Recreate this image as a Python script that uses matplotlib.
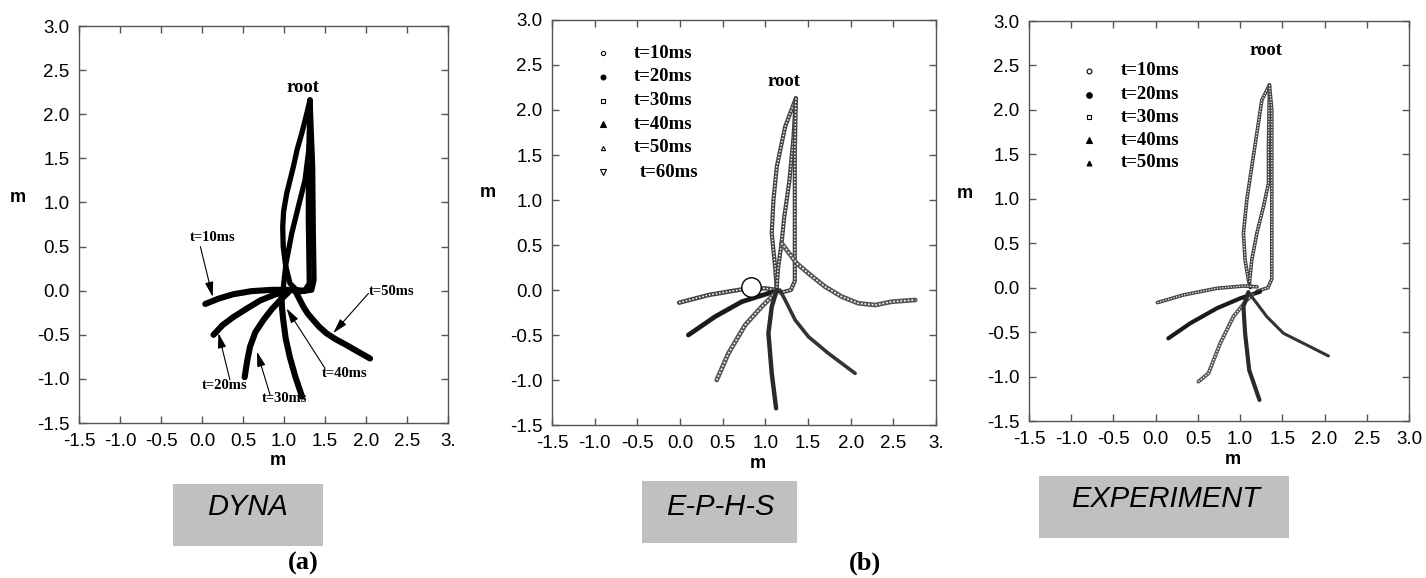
import matplotlib
matplotlib.use("Agg")
import matplotlib.pyplot as plt
from matplotlib.patches import Rectangle

# ---- tick values / labels ----
X_TICKS = [-1.5, -1.0, -0.5, 0.0, 0.5, 1.0, 1.5, 2.0, 2.5, 3.0]
Y_TICKS = [-1.5, -1.0, -0.5, 0.0, 0.5, 1.0, 1.5, 2.0, 2.5, 3.0]
X_LABELS_CUT = ["-1.5", "-1.0", "-0.5", "0.0", "0.5", "1.0", "1.5", "2.0", "2.5", "3."]
X_LABELS_FULL = ["-1.5", "-1.0", "-0.5", "0.0", "0.5", "1.0", "1.5", "2.0", "2.5", "3.0"]
Y_LABELS = ["-1.5", "-1.0", "-0.5", "0.0", "0.5", "1.0", "1.5", "2.0", "2.5", "3.0"]

# ---- panel (a) DYNA: upper strands from the root ----
A_UP_LEFT_X = [1.317, 1.27, 1.216, 1.16, 1.114, 1.033, 0.995, 0.984, 0.990, 1.02, 1.073, 1.154]
A_UP_LEFT_Y = [2.161, 1.98, 1.783, 1.60, 1.405, 1.103, 0.90, 0.724, 0.50, 0.28, 0.083, 0.007]
A_UP_MID_X = [1.317, 1.317, 1.256, 1.174, 1.094, 1.024, 0.992]
A_UP_MID_Y = [2.161, 1.707, 1.254, 0.951, 0.650, 0.310, 0.044]
A_UP_RIGHT_X = [1.317, 1.349, 1.357, 1.366, 1.338, 1.195]
A_UP_RIGHT_Y = [2.161, 1.405, 0.650, 0.121, 0.007, -0.012]
A_UP_RIGHT2_X = [1.317, 1.300, 1.296, 1.308, 1.250]
A_UP_RIGHT2_Y = [2.161, 1.500, 0.838, 0.083, 0.000]

# ---- panel (a) branches ----
A_T10_X = [0.04, 0.20, 0.38, 0.60, 0.85, 1.10, 1.25]
A_T10_Y = [-0.15, -0.09, -0.04, -0.005, 0.01, 0.01, 0.0]
A_T20_X = [0.14, 0.25, 0.38, 0.55, 0.71, 0.87, 1.03, 1.15]
A_T20_Y = [-0.50, -0.39, -0.30, -0.20, -0.11, -0.05, 0.0, 0.01]
A_T30_X = [0.52, 0.55, 0.585, 0.65, 0.75, 0.85, 0.95, 1.05]
A_T30_Y = [-0.98, -0.80, -0.635, -0.47, -0.33, -0.21, -0.11, -0.02]
A_T40_X = [1.22, 1.14, 1.07, 1.02, 0.99, 0.975, 0.97, 1.0]
A_T40_Y = [-1.20, -0.98, -0.75, -0.54, -0.33, -0.19, -0.07, 0.0]
A_T50_X = [2.049, 1.90, 1.764, 1.63, 1.520, 1.43, 1.357, 1.29, 1.236, 1.13]
A_T50_Y = [-0.768, -0.69, -0.617, -0.55, -0.484, -0.41, -0.333, -0.26, -0.182, 0.01]

# arrow labels in (a): text position, arrow tail, arrow head
A_LABELS = ["t=10ms", "t=20ms", "t=30ms", "t=40ms", "t=50ms"]
A_LABEL_XY = [(0.13, 0.60), (0.27, -1.07), (1.01, -1.22), (1.74, -0.94), (2.31, -0.01)]
A_TAIL_XY = [(-0.02, 0.50), (0.34, -1.01), (0.83, -1.18), (1.50, -0.88), (2.03, -0.03)]
A_HEAD_XY = [(0.13, -0.07), (0.20, -0.48), (0.67, -0.69), (1.03, -0.20), (1.60, -0.48)]

# ---- panel (b) E-P-H-S ----
B_UP_LEFT_X = [1.357, 1.232, 1.134, 1.095, 1.075, 1.114, 1.134]
B_UP_LEFT_Y = [2.13, 1.815, 1.37, 1.0, 0.63, 0.259, 0.0]
B_UP_MID_X = [1.357, 1.33, 1.28, 1.22, 1.19, 1.15, 1.13]
B_UP_MID_Y = [2.13, 1.70, 1.20, 0.80, 0.52, 0.25, 0.0]
B_UP_RIGHT_X = [1.357, 1.345, 1.345, 1.345, 1.30, 1.18]
B_UP_RIGHT_Y = [2.13, 1.50, 0.80, 0.10, 0.0, -0.03]
B_T10_X = [-0.011, 0.333, 0.724, 0.997, 1.134]
B_T10_Y = [-0.141, -0.056, 0.007, 0.019, 0.0]
B_T20_X = [0.098, 0.411, 0.724, 1.036, 1.15]
B_T20_Y = [-0.50, -0.296, -0.130, -0.037, -0.01]
B_T30_X = [0.43, 0.567, 0.763, 0.958, 1.114]
B_T30_Y = [-1.0, -0.704, -0.389, -0.185, -0.037]
B_T40_X = [1.126, 1.075, 1.036, 1.075, 1.134]
B_T40_Y = [-1.315, -0.926, -0.481, -0.185, 0.0]
B_T50_X = [2.052, 1.739, 1.505, 1.349, 1.232, 1.17]
B_T50_Y = [-0.926, -0.704, -0.519, -0.333, -0.111, 0.0]
B_T60_X = [1.19, 1.368, 1.505, 1.70, 1.896, 2.091, 2.287, 2.482, 2.756]
B_T60_Y = [0.52, 0.296, 0.185, 0.037, -0.074, -0.148, -0.167, -0.130, -0.111]
B_CIRCLE = (0.833, 0.037)
B_LEGEND = ["t=10ms", "t=20ms", "t=30ms", "t=40ms", "t=50ms", "t=60ms"]

# ---- panel (c) EXPERIMENT ----
C_UP_LEFT_X = [1.347, 1.257, 1.198, 1.138, 1.079, 1.039, 1.059, 1.098, 1.12]
C_UP_LEFT_Y = [2.28, 2.111, 1.737, 1.361, 0.987, 0.612, 0.312, 0.087, 0.0]
C_UP_MID_X = [1.347, 1.336, 1.336, 1.276, 1.198, 1.138, 1.11]
C_UP_MID_Y = [2.28, 1.60, 1.174, 0.911, 0.612, 0.312, 0.05]
C_UP_RIGHT_X = [1.347, 1.375, 1.375, 1.375, 1.33, 1.20]
C_UP_RIGHT_Y = [2.28, 2.0, 1.0, 0.10, 0.0, -0.04]
C_T10_X = [0.02, 0.328, 0.724, 1.039, 1.20]
C_T10_Y = [-0.168, -0.082, -0.007, 0.019, 0.01]
C_T20_X = [0.15, 0.408, 0.724, 1.0, 1.237]
C_T20_Y = [-0.57, -0.401, -0.232, -0.12, -0.045]
C_T30_X = [0.506, 0.625, 0.764, 0.92, 1.079, 1.15]
C_T30_Y = [-1.057, -0.963, -0.626, -0.326, -0.139, -0.08]
C_T40_X = [1.229, 1.107, 1.059, 1.039, 1.098]
C_T40_Y = [-1.263, -0.926, -0.513, -0.213, -0.05]
C_T50_X = [2.046, 1.829, 1.513, 1.316, 1.198, 1.12]
C_T50_Y = [-0.768, -0.664, -0.513, -0.326, -0.176, -0.08]
C_LEGEND = ["t=10ms", "t=20ms", "t=30ms", "t=40ms", "t=50ms"]

SERIF = ["Liberation Serif", "DejaVu Serif"]
SANS = ["Liberation Sans", "DejaVu Sans"]
SPINE = "#555555"


def setup_axes(ax, xlabels, xlab_pos, ylab_pos):
    ax.set_xlim(-1.5, 3.0)
    ax.set_ylim(-1.5, 3.0)
    ax.set_xticks(X_TICKS)
    ax.set_yticks(Y_TICKS)
    ax.set_xticklabels(xlabels, family=SANS, fontsize=13.5)
    ax.set_yticklabels(Y_LABELS, family=SANS, fontsize=13.5)
    ax.tick_params(direction="in", length=5, width=1, color=SPINE,
                   top=True, right=True, pad=7)
    for s in ax.spines.values():
        s.set_color(SPINE)
        s.set_linewidth(1.0)
    ax.text(xlab_pos[0], xlab_pos[1], "m", transform=ax.transAxes, ha="center",
            va="center", fontsize=13, weight="bold", family=SANS)
    ax.text(ylab_pos[0], ylab_pos[1], "m", transform=ax.transAxes, ha="center",
            va="center", fontsize=13, weight="bold", family=SANS)


def beaded(ax, x, y, lw=3.2, color="#333333", open_=True):
    # chain of small markers: dark band with a dotted light core
    ax.plot(x, y, color=color, lw=lw, solid_capstyle="round", solid_joinstyle="round")
    if open_:
        ax.plot(x, y, color="white", lw=lw * 0.35, linestyle=(0, (1, 1.2)),
                solid_joinstyle="round")


fig = plt.figure(figsize=(14.26, 5.78), dpi=100)

# ---------------- (a) ----------------
ax1 = fig.add_axes([0.0554, 0.268, 0.2588, 0.687])
setup_axes(ax1, X_LABELS_CUT, (0.539, -0.093), (-0.165, 0.569))
for xs, ys in [(A_UP_LEFT_X, A_UP_LEFT_Y), (A_UP_MID_X, A_UP_MID_Y),
               (A_UP_RIGHT_X, A_UP_RIGHT_Y), (A_UP_RIGHT2_X, A_UP_RIGHT2_Y)]:
    ax1.plot(xs, ys, color="black", lw=3.8, solid_capstyle="round", solid_joinstyle="round")
for xs, ys in [(A_T10_X, A_T10_Y), (A_T20_X, A_T20_Y), (A_T30_X, A_T30_Y),
               (A_T40_X, A_T40_Y), (A_T50_X, A_T50_Y)]:
    ax1.plot(xs, ys, color="black", lw=4.4, solid_capstyle="round", solid_joinstyle="round")
for lab, txy, tail, head in zip(A_LABELS, A_LABEL_XY, A_TAIL_XY, A_HEAD_XY):
    ax1.text(txy[0], txy[1], lab, ha="center", va="center", fontsize=10.5,
             weight="bold", family=SERIF)
    ax1.annotate("", xy=head, xytext=tail,
                 arrowprops=dict(arrowstyle="-|>,head_length=0.9,head_width=0.25",
                                 color="black", lw=0.8, shrinkA=0, shrinkB=0))
ax1.text(1.23, 2.30, "root", ha="center", va="center", fontsize=13.5,
         weight="bold", family=SERIF)

# ---------------- (b) ----------------
ax2 = fig.add_axes([0.3871, 0.2647, 0.2693, 0.7007])
setup_axes(ax2, X_LABELS_CUT, (0.536, -0.094), (-0.167, 0.573))
for xs, ys in [(B_UP_LEFT_X, B_UP_LEFT_Y), (B_UP_MID_X, B_UP_MID_Y),
               (B_UP_RIGHT_X, B_UP_RIGHT_Y)]:
    beaded(ax2, xs, ys, lw=3.0, color="#444444")
beaded(ax2, B_T10_X, B_T10_Y, lw=3.2, color="#444444")
beaded(ax2, B_T20_X, B_T20_Y, lw=3.4, color="#1a1a1a", open_=False)
beaded(ax2, B_T30_X, B_T30_Y, lw=3.4, color="#555555")
beaded(ax2, B_T40_X, B_T40_Y, lw=3.2, color="#2a2a2a", open_=False)
beaded(ax2, B_T50_X, B_T50_Y, lw=2.6, color="#333333", open_=False)
beaded(ax2, B_T60_X, B_T60_Y, lw=3.4, color="#555555")
ax2.plot([B_CIRCLE[0]], [B_CIRCLE[1]], marker="o", ms=14, mfc="white",
         mec="black", mew=1.0, zorder=5)
b_markers = [("o", 3, "none"), ("o", 3.5, "black"), ("s", 3, "none"),
             ("^", 4, "black"), ("^", 3, "none"), ("v", 4, "none")]
b_rows = [2.633, 2.367, 2.10, 1.844, 1.578, 1.311]
for lab, (m, ms, fc), yy in zip(B_LEGEND, b_markers, b_rows):
    ax2.plot([-0.902], [yy], marker=m, ms=ms, mfc=fc, mec="black", mew=0.8)
    x0 = -0.468 if lab == "t=60ms" else -0.539
    ax2.text(x0, yy, lab, ha="left", va="center", fontsize=13.5, weight="bold",
             family=SERIF)
ax2.text(1.223, 2.315, "root", ha="center", va="center", fontsize=13.5,
         weight="bold", family=SERIF)

# ---------------- (c) ----------------
ax3 = fig.add_axes([0.7216, 0.2716, 0.2665, 0.692])
setup_axes(ax3, X_LABELS_FULL, (0.537, -0.095), (-0.168, 0.57))
for xs, ys in [(C_UP_LEFT_X, C_UP_LEFT_Y), (C_UP_MID_X, C_UP_MID_Y),
               (C_UP_RIGHT_X, C_UP_RIGHT_Y)]:
    beaded(ax3, xs, ys, lw=2.6, color="#444444")
beaded(ax3, C_T10_X, C_T10_Y, lw=2.6, color="#444444")
beaded(ax3, C_T20_X, C_T20_Y, lw=3.0, color="#1a1a1a", open_=False)
beaded(ax3, C_T30_X, C_T30_Y, lw=2.8, color="#555555")
beaded(ax3, C_T40_X, C_T40_Y, lw=3.0, color="#2a2a2a", open_=False)
beaded(ax3, C_T50_X, C_T50_Y, lw=2.2, color="#333333", open_=False)
c_markers = [("o", 3.5, "none"), ("o", 4, "black"), ("s", 3.5, "none"),
             ("^", 4.5, "black"), ("^", 3.5, "black")]
c_rows = [2.438, 2.168, 1.92, 1.661, 1.403]
for lab, (m, ms, fc), yy in zip(C_LEGEND, c_markers, c_rows):
    ax3.plot([-0.789], [yy], marker=m, ms=ms, mfc=fc, mec="black", mew=0.8)
    ax3.text(-0.41, yy, lab, ha="left", va="center", fontsize=13.5, weight="bold",
             family=SERIF)
ax3.text(1.308, 2.674, "root", ha="center", va="center", fontsize=13.5,
         weight="bold", family=SERIF)

# ---------------- captions ----------------
boxes = [("DYNA", (0.1213, 0.0554, 0.1052, 0.1073), (0.1739, 0.1228)),
         ("E-P-H-S", (0.4502, 0.0606, 0.1087, 0.1073), (0.5049, 0.1228)),
         ("EXPERIMENT", (0.7286, 0.0692, 0.1753, 0.1073), (0.8177, 0.1367))]
for name, (bx, by, bw, bh), (tx, ty) in boxes:
    fig.patches.append(Rectangle((bx, by), bw, bh, transform=fig.transFigure,
                                 facecolor="#c0c0c0", edgecolor="none"))
    fig.text(tx, ty, name, ha="center", va="center", fontsize=21, style="italic",
             family=SANS)
fig.text(0.2125, 0.026, "(a)", ha="center", va="center", fontsize=19,
         weight="bold", family=SERIF)
fig.text(0.6066, 0.026, "(b)", ha="center", va="center", fontsize=19,
         weight="bold", family=SERIF)

fig.savefig("out.png", dpi=100)
